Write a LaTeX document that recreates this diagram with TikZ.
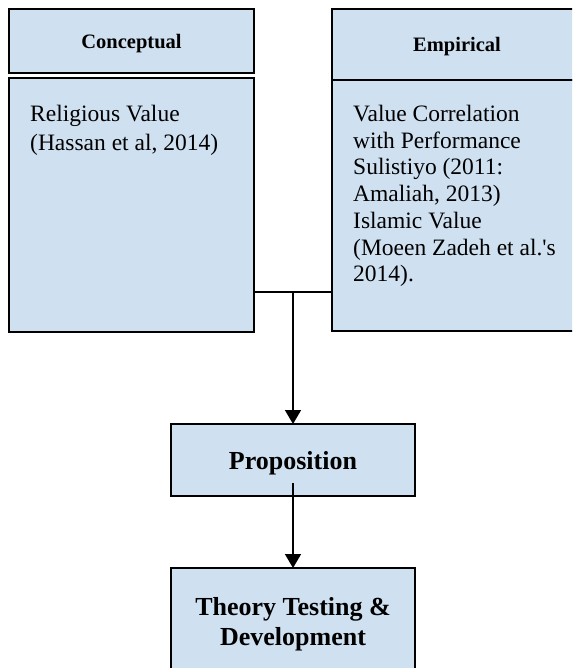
\documentclass[tikz,border=0pt]{standalone}
\usepackage{fontspec}
\setmainfont{Liberation Serif}
\usetikzlibrary{arrows.meta,calc}
\definecolor{boxblue}{RGB}{207,224,240}
\tikzset{
  box/.style={draw=black, line width=1.8pt, fill=boxblue, rectangle,
    inner sep=0pt, outer sep=0pt, anchor=north west, text depth=0pt},
  bodytext/.style={anchor=north west, inner sep=0pt, align=left},
  link/.style={draw=black, line width=1.7pt},
  arrowlink/.style={link, -{Triangle[width=16pt,length=14pt]}}
}
\begin{document}
\begin{tikzpicture}[x=1pt,y=-1pt]
  \useasboundingbox (0,0) rectangle (572,668);
  \clip (0,0) rectangle (572,668);

  % Conceptual column: header and body as separate boxes
  \node[box, minimum width=245pt, minimum height=64pt,
        font=\fontsize{20.5}{24}\selectfont\bfseries] (chead) at (9,9) {Conceptual};
  \node[box, minimum width=245pt, minimum height=254pt] (cbody) at (9,78) {};
  \node[bodytext, font=\fontsize{23.5}{29}\selectfont] (ctext) at (30,105)
    {Religious Value\\(Hassan et al, 2014)};

  % Empirical column: one box split by a rule
  \node[box, minimum width=250pt, minimum height=71pt,
        font=\fontsize{20.5}{24}\selectfont\bfseries] (ehead) at (332,9) {Empirical};
  \node[box, minimum width=250pt, minimum height=251pt] (ebody) at (332,80) {};
  \node[bodytext, font=\fontsize{23.5}{26.7}\selectfont] (etext) at (353,105)
    {Value Correlation\\with Performance\\Sulistiyo (2011:\\Amaliah, 2013)\\Islamic Value\\(Moeen Zadeh et al.\textquotesingle s\\2014).};

  % Lower boxes
  \node[box, minimum width=244pt, minimum height=72pt,
        font=\fontsize{26}{30}\selectfont\bfseries] (prop) at (171,424) {Proposition};
  \node[box, minimum width=244pt, minimum height=106pt, align=center,
        font=\fontsize{26}{30}\selectfont\bfseries] (theory) at (171,568)
    {Theory Testing \&\\Development};

  % Connectors
  \coordinate (join) at (prop.north |- 0,292);
  \draw[link] (cbody.east |- join) -- (ebody.west |- join);
  \draw[arrowlink] (join) -- (prop.north);
  \coordinate (propout) at ([yshift=13pt]prop.south);
  \draw[arrowlink] (propout) -- (theory.north);
\end{tikzpicture}
\end{document}
